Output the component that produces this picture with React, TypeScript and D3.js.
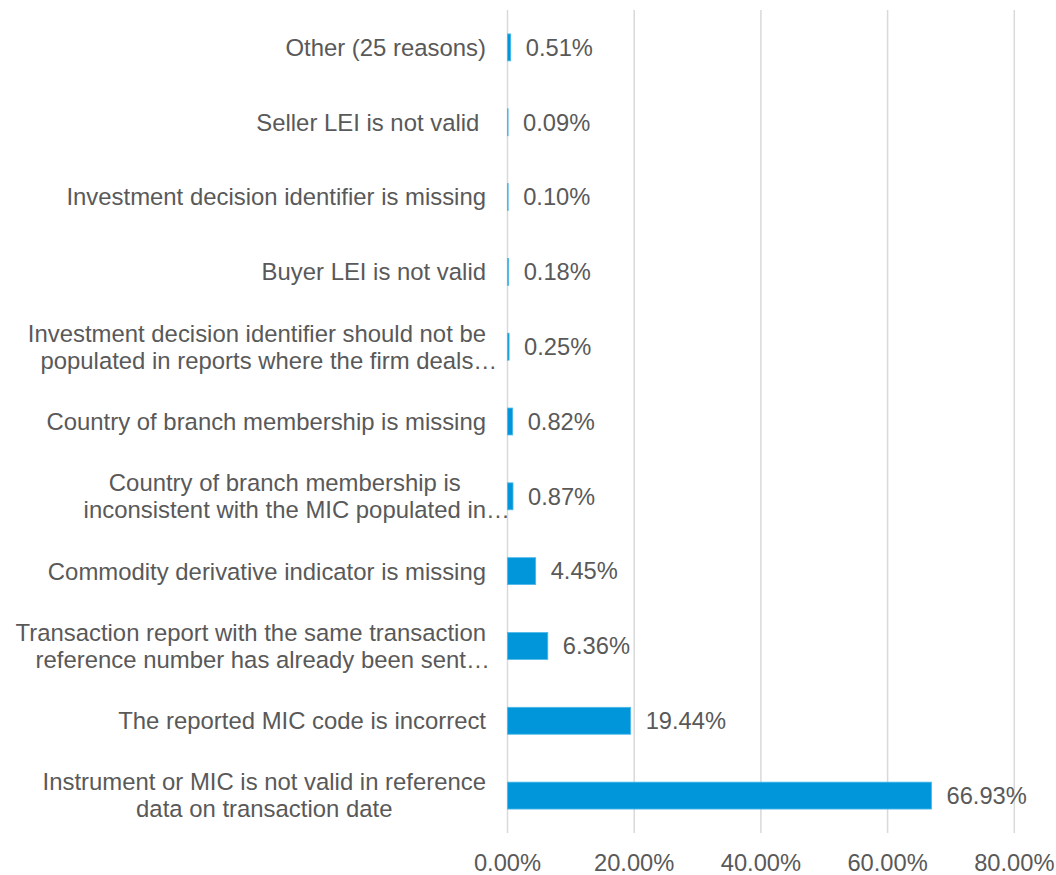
import React from "react";
import * as d3 from "d3";

const categories: string[] = [
  "Other (25 reasons)",
  "Seller LEI is not valid ",
  "Investment decision identifier is missing",
  "Buyer LEI is not valid",
  "Investment decision identifier should not be\npopulated in reports where the firm deals…",
  "Country of branch membership is missing",
  "Country of branch membership is\ninconsistent with the MIC populated in…",
  "Commodity derivative indicator is missing",
  "Transaction report with the same transaction\nreference number has already been sent…",
  "The reported MIC code is incorrect",
  "Instrument or MIC is not valid in reference\ndata on transaction date",
];
const values: number[] = [0.51, 0.09, 0.1, 0.18, 0.25, 0.82, 0.87, 4.45, 6.36, 19.44, 66.93];
const ticks: number[] = [0, 20, 40, 60, 80];

const W = 1056;
const H = 875;
const FONT = "'Liberation Sans', Arial, sans-serif";
const FS = 23.9;
const FS_VAL = 23.7;
const TXT = "#595959";

let ctx: CanvasRenderingContext2D | null = null;
function measure(s: string): number {
  if (!ctx) {
    ctx = document.createElement("canvas").getContext("2d");
  }
  if (!ctx) return s.length * FS * 0.5;
  ctx.font = `${FS}px ${FONT}`;
  return ctx.measureText(s).width;
}

export default function App() {
  const x = d3.scaleLinear().domain([0, 80]).range([507.5, 1014.3]);
  const y = d3
    .scaleBand<string>()
    .domain(categories)
    .range([10, 833])
    .paddingInner(0.64)
    .paddingOuter(0.32);
  const bw = y.bandwidth();
  const fmt = (v: number) => v.toFixed(2) + "%";
  const labelRight = 486;
  const lh = 27;

  return (
    <svg
      width={W}
      height={H}
      style={{ position: "absolute", left: 0, top: 0, background: "#fff" }}
      fontFamily={FONT}
    >
      {ticks.map((t) => (
        <line key={"g" + t} x1={x(t)} x2={x(t)} y1={10} y2={833} stroke="#d9d9d9" strokeWidth={1.5} />
      ))}
      {categories.map((c, i) => {
        const y0 = y(c)!;
        const cy = y0 + bw / 2;
        const lines = c.split("\n");
        const bases = lines.map((l) => measure(l.replace(/…$/, "")));
        const maxW = Math.max(...bases);
        const cx = labelRight - maxW / 2;
        return (
          <g key={c}>
            <rect
              x={x(0)}
              y={y0}
              width={Math.max(0, x(values[i]) - x(0))}
              height={bw}
              fill="#0096d9"
              stroke="#4fb8ea"
              strokeWidth={0.8}
            />
            <text x={x(values[i]) + 15} y={cy} dy="0.35em" fontSize={FS_VAL} fill={TXT}>
              {fmt(values[i])}
            </text>
            <text fontSize={FS} fill={TXT}>
              {lines.map((l, k) => (
                <tspan
                  key={k}
                  x={cx - bases[k] / 2}
                  y={cy + (k - (lines.length - 1) / 2) * lh}
                  dy="0.35em"
                >
                  {l.trim()}
                </tspan>
              ))}
            </text>
          </g>
        );
      })}
      {ticks.map((t) => (
        <text key={"t" + t} x={x(t)} y={863} dy="0.35em" textAnchor="middle" fontSize={FS_VAL} fill={TXT}>
          {t.toFixed(2) + "%"}
        </text>
      ))}
    </svg>
  );
}
